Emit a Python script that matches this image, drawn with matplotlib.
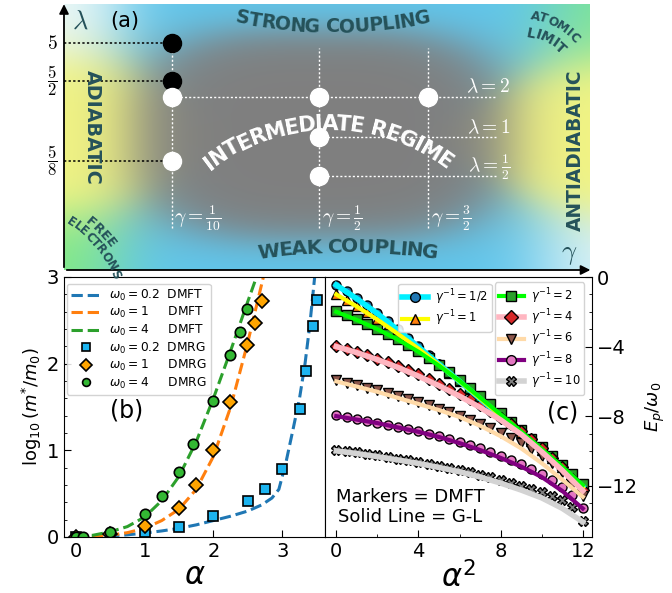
import numpy as np
import matplotlib
matplotlib.use('Agg')
import matplotlib.pyplot as plt
from matplotlib.font_manager import FontProperties
from matplotlib.lines import Line2D
from matplotlib.ticker import MultipleLocator

# ---------------- data ----------------
# panel (a): schematic phase diagram (positions in schematic axes units)
gamma_pos = {'1/10': 0.205, '1/2': 0.485, '3/2': 0.692}
lambda_pos = {'5': 0.853, '5/2': 0.711, '2': 0.650, '1': 0.500, '5/8': 0.410, '1/2': 0.353}
black_pts = [('1/10', '5'), ('1/10', '5/2')]
white_pts = [('1/10', '2'), ('1/10', '5/8'), ('1/2', '2'), ('1/2', '1'), ('1/2', '1/2'), ('3/2', '2')]

# panel (b): log10(m*/m0) vs alpha
dmft_02_x = [0, 0.25, 0.5, 0.75, 1.0, 1.25, 1.5, 1.75, 2.0, 2.25, 2.5, 2.7, 2.85, 2.95, 3.05, 3.15, 3.25, 3.33, 3.4, 3.47, 3.52]
dmft_02_y = [0, 0.003, 0.01, 0.025, 0.045, 0.07, 0.1, 0.14, 0.19, 0.24, 0.3, 0.37, 0.45, 0.55, 0.85, 1.22, 1.6, 2.0, 2.45, 3.0, 3.4]
dmft_1_x = [0, 0.25, 0.5, 0.75, 1.0, 1.25, 1.5, 1.75, 2.0, 2.25, 2.5, 2.65, 2.8]
dmft_1_y = [0, 0.003, 0.02, 0.05, 0.1, 0.19, 0.32, 0.55, 0.93, 1.5, 2.25, 2.75, 3.25]
dmft_4_x = [0, 0.25, 0.5, 0.75, 1.0, 1.25, 1.5, 1.75, 2.0, 2.25, 2.5, 2.67]
dmft_4_y = [0, 0.02, 0.06, 0.12, 0.23, 0.42, 0.7, 1.1, 1.6, 2.15, 2.72, 3.1]
dmrg_02_x = [0, 1.0, 1.5, 2.0, 2.5, 2.75, 3.0, 3.25, 3.35, 3.45, 3.5]
dmrg_02_y = [0, 0.06, 0.11, 0.24, 0.41, 0.55, 0.79, 1.48, 1.92, 2.44, 2.73]
dmrg_1_x = [0, 0.5, 1.0, 1.5, 1.75, 2.0, 2.24, 2.49, 2.6, 2.71]
dmrg_1_y = [0, 0.03, 0.13, 0.33, 0.60, 1.00, 1.56, 2.22, 2.47, 2.72]
dmrg_4_x = [0, 0.1, 0.5, 1.0, 1.25, 1.5, 1.7, 2.0, 2.24, 2.39, 2.49]
dmrg_4_y = [0, 0, 0.06, 0.27, 0.47, 0.75, 1.07, 1.57, 2.10, 2.36, 2.63]

# panel (c): E_p/omega_0 vs alpha^2
alpha2_dmft = [0, 0.5, 1, 1.5, 2, 2.5, 3, 3.5, 4, 4.5, 5, 5.5, 6, 6.5, 7, 7.5, 8, 8.5, 9, 9.5, 10, 10.5, 11, 11.5, 12]
alpha2_gl = [0, 1, 2, 3, 4, 5, 6, 7, 8, 9, 10, 11, 12]
dmft_g05 = [-0.46, -0.82, -1.2, -1.62, -2.06, -2.53, -3.01, -3.5, -3.99, -4.49, -4.98, -5.48, -5.97, -6.47, -6.96, -7.46, -7.95, -8.45, -8.95, -9.44, -9.94, -10.44, -10.94, -11.44, -11.95]
dmft_g1 = [-0.97, -1.3, -1.65, -2.02, -2.4, -2.8, -3.22, -3.66, -4.1, -4.56, -5.03, -5.5, -5.98, -6.46, -6.95, -7.44, -7.93, -8.42, -8.92, -9.42, -9.92, -10.42, -10.92, -11.42, -11.95]
dmft_g2 = [-1.97, -2.2, -2.44, -2.7, -2.97, -3.26, -3.57, -3.91, -4.27, -4.66, -5.06, -5.48, -5.92, -6.38, -6.85, -7.33, -7.82, -8.31, -8.8, -9.3, -9.8, -10.3, -10.82, -11.34, -11.88]
dmft_g4 = [-3.97, -4.13, -4.3, -4.49, -4.69, -4.9, -5.12, -5.36, -5.6, -5.86, -6.13, -6.42, -6.72, -7.04, -7.37, -7.72, -8.08, -8.47, -8.88, -9.32, -9.85, -10.38, -10.95, -11.6, -12.25]
dmft_g6 = [-5.95, -6.08, -6.22, -6.37, -6.52, -6.68, -6.85, -7.02, -7.2, -7.38, -7.57, -7.77, -7.98, -8.2, -8.43, -8.68, -8.95, -9.24, -9.56, -9.91, -10.3, -10.72, -11.2, -11.9, -12.6]
dmft_g8 = [-7.95, -8.05, -8.15, -8.26, -8.37, -8.49, -8.61, -8.74, -8.87, -9.01, -9.16, -9.32, -9.48, -9.66, -9.85, -10.05, -10.27, -10.5, -10.75, -11.03, -11.33, -11.67, -12.05, -12.55, -13.3]
dmft_g10 = [-9.92, -10.0, -10.08, -10.17, -10.26, -10.35, -10.45, -10.55, -10.65, -10.76, -10.87, -10.99, -11.11, -11.24, -11.37, -11.51, -11.66, -11.82, -11.99, -12.17, -12.37, -12.59, -12.84, -13.2, -14.05]
gl_g05 = [-0.46, -1.25, -2.1, -3.05, -4.02, -5.01, -6.0, -7.0, -8.0, -9.0, -10.0, -11.0, -12.05]
gl_g1 = [-1.0, -1.7, -2.45, -3.27, -4.12, -5.05, -6.0, -6.98, -7.97, -8.97, -9.97, -10.98, -12.1]
gl_g2 = [-2.0, -2.47, -3.0, -3.6, -4.3, -5.1, -5.97, -6.93, -7.9, -8.88, -9.88, -10.9, -11.97]
gl_g4 = [-4.0, -4.35, -4.75, -5.2, -5.7, -6.25, -6.85, -7.5, -8.22, -9.05, -10.05, -11.12, -12.29]
gl_g6 = [-6.0, -6.3, -6.6, -6.95, -7.3, -7.65, -8.05, -8.55, -9.15, -9.85, -10.7, -11.65, -12.64]
gl_g8 = [-8.0, -8.2, -8.4, -8.65, -8.9, -9.2, -9.55, -9.95, -10.4, -10.9, -11.5, -12.3, -13.31]
gl_g10 = [-10.0, -10.15, -10.33, -10.52, -10.72, -10.95, -11.2, -11.5, -11.85, -12.25, -12.7, -13.3, -14.08]
gamma_labels = ['1/2', '1', '2', '4', '6', '8', '10']

# ---------------- figure ----------------
FW, FH = 672, 593
fig = plt.figure(figsize=(FW / 100, FH / 100), dpi=100)
plt.rcParams['xtick.direction'] = 'in'
plt.rcParams['ytick.direction'] = 'in'


def fx(px):
    return px / FW


def fy(py):
    return 1 - py / FH


ax_a = fig.add_axes([fx(64), fy(270), (590 - 64) / FW, (270 - 4) / FH])
ax_b = fig.add_axes([fx(64), fy(537), (325 - 64) / FW, (537 - 277) / FH])
ax_c = fig.add_axes([fx(325), fy(537), (592 - 325) / FW, (537 - 277) / FH])

# ---------- panel (a) background ----------
H, W = 266, 526
X, Y = np.meshgrid(np.linspace(0, 1, W), np.linspace(1, 0, H))
yellow = np.array([0.95, 0.96, 0.52])
blue = np.array([0.38, 0.78, 0.93])
green = np.array([0.50, 0.93, 0.48])
white = np.array([0.97, 0.99, 1.0])
anchors = [(0.0, 0.5, yellow, 0.10, 0.22), (1.0, 0.52, yellow, 0.09, 0.22),
           (0.0, 1.0, white, 0.09, 0.12), (1.0, 0.0, white, 0.09, 0.12),
           (0.0, 0.0, green, 0.09, 0.13), (1.0, 1.0, green, 0.08, 0.13)]
for xb in np.linspace(0.25, 0.85, 7):
    anchors.append((xb, 1.0, blue, 0.12, 0.13))
    anchors.append((xb - 0.03, 0.0, blue, 0.12, 0.13))
acc = np.zeros((H, W, 3))
wsum = np.zeros((H, W))
for axx, ayy, col, sx, sy in anchors:
    w = np.exp(-0.5 * ((X - axx) / sx) ** 2 - 0.5 * ((Y - ayy) / sy) ** 2) + 1e-12
    acc += w[..., None] * col
    wsum += w
outer = acc / wsum[..., None]
p = 3.0
d = (np.abs((X - 0.49) / 0.36) ** p + np.abs((Y - 0.51) / 0.40) ** p) ** (1 / p)
alpha = 1 / (1 + np.exp((d - 1) / 0.1))
gray = np.array([0.5, 0.5, 0.5])
img = outer * (1 - alpha[..., None]) + gray * alpha[..., None]
ax_a.imshow(img, extent=[0, 1, 0, 1], aspect='auto', origin='upper', zorder=0)
ax_a.set_xlim(0, 1)
ax_a.set_ylim(0, 1)
ax_a.set_xticks([])
ax_a.set_yticks([])
for s in ax_a.spines.values():
    s.set_visible(False)
ax_a.annotate('', xy=(0, 1.01), xytext=(0, 0), xycoords='axes fraction',
              arrowprops=dict(arrowstyle='-|>', color='k', lw=1.3, mutation_scale=14), annotation_clip=False)
ax_a.annotate('', xy=(1.006, 0), xytext=(0, 0), xycoords='axes fraction',
              arrowprops=dict(arrowstyle='-|>', color='k', lw=1.3, mutation_scale=14), annotation_clip=False)

dot = (0, (1.5, 1.5))
gx = gamma_pos
ly = lambda_pos
for lam in ['5', '5/2', '5/8']:
    ax_a.plot([0, gx['1/10']], [ly[lam]] * 2, color='k', ls=dot, lw=1.1, zorder=2)
ax_a.plot([gx['1/10'], 0.821], [ly['2']] * 2, color='white', ls=dot, lw=1.0, zorder=2)
ax_a.plot([gx['1/2'], 0.821], [ly['1']] * 2, color='white', ls=dot, lw=1.0, zorder=2)
ax_a.plot([gx['1/2'], 0.821], [ly['1/2']] * 2, color='white', ls=dot, lw=1.0, zorder=2)
ax_a.plot([gx['1/10']] * 2, [0.158, ly['5']], color='white', ls=dot, lw=1.0, zorder=2)
ax_a.plot([gx['1/2']] * 2, [0.158, 0.835], color='white', ls=dot, lw=1.0, zorder=2)
ax_a.plot([gx['3/2']] * 2, [0.158, 0.835], color='white', ls=dot, lw=1.0, zorder=2)
for g, l in black_pts:
    ax_a.plot(gx[g], ly[l], 'o', ms=13, mfc='k', mec='k', zorder=4)
for g, l in white_pts:
    ax_a.plot(gx[g], ly[l], 'o', ms=13, mfc='white', mec='white', zorder=4)

teal = '#25525a'
ax_a.text(-0.023, ly['5'], r'$5$', ha='center', va='center', fontsize=14, math_fontfamily='cm')
ax_a.text(-0.023, ly['5/2'], r'$\dfrac{5}{2}$', ha='center', va='center', fontsize=12, math_fontfamily='cm')
ax_a.text(-0.023, ly['5/8'], r'$\dfrac{5}{8}$', ha='center', va='center', fontsize=12, math_fontfamily='cm')
ax_a.text(0.03, 0.935, r'$\lambda$', ha='center', va='center', fontsize=19, color=teal, math_fontfamily='cm')
ax_a.text(0.116, 0.935, '(a)', ha='center', va='center', fontsize=15)
ax_a.text(0.96, 0.06, r'$\gamma$', ha='center', va='center', fontsize=19, color=teal, math_fontfamily='cm')
for g, lab in [('1/10', r'$\gamma = \frac{1}{10}$'), ('1/2', r'$\gamma = \frac{1}{2}$'), ('3/2', r'$\gamma = \frac{3}{2}$')]:
    ax_a.text(gx[g] + 0.005, 0.195, lab, ha='left', va='center', fontsize=14, color='white', math_fontfamily='cm')
for lam, lab, yy in [('2', r'$\lambda = 2$', 0.688), ('1', r'$\lambda = 1$', 0.535), ('1/2', r'$\lambda = \frac{1}{2}$', 0.387)]:
    ax_a.text(0.848, yy, lab, ha='right', va='center', fontsize=14, color='white', math_fontfamily='cm')

renderer = fig.canvas.get_renderer()


def text_w(s, fp):
    w, h, dsc = renderer.get_text_width_height_descent(s, fp, ismath=False)
    return w


def arc_text(s, mx, my_img, R, phi_mid, target, color, cw=True, boost=1.0):
    """Place bold text along a circular arc whose middle point is (mx, my_img)."""
    fp0 = FontProperties(family='DejaVu Sans', weight='bold', size=10)
    fs = 10 * target / text_w(s, fp0)
    fp = FontProperties(family='DejaVu Sans', weight='bold', size=fs * boost)
    total = text_w(s, fp)
    my = FH - my_img
    cx = mx - R * np.cos(np.radians(phi_mid))
    cy = my - R * np.sin(np.radians(phi_mid))
    for i, ch in enumerate(s):
        if ch == ' ':
            continue
        right = text_w(s[:i + 1], fp)
        wc = text_w(ch, fp)
        mid = (right - wc / 2 - total / 2) / boost
        if cw:
            ang = np.radians(phi_mid) - mid / R
            rot = np.degrees(ang) - 90
        else:
            ang = np.radians(phi_mid) + mid / R
            rot = np.degrees(ang) + 90
        x = cx + R * np.cos(ang)
        y = cy + R * np.sin(ang)
        fig.text(x / FW, y / FH, ch, fontproperties=fp, color=color, rotation=rot,
                 rotation_mode='anchor', ha='center', va='center')


arc_text('STRONG COUPLING', 333, 27, 475, -90, 195, teal, cw=False, boost=1.06)
arc_text('WEAK COUPLING', 348, 247, 647, 90, 180, teal, cw=True, boost=1.06)
arc_text('INTERMEDIATE REGIME', 328, 124, 198, 90, 262, 'white', cw=True, boost=1.06)
arc_text('FREE', 101, 232, 132, 43, 37, teal, cw=True)
arc_text('ELECTRONS', 97, 245, 120, 40, 77, teal, cw=True)
arc_text('ATOMIC', 556, 24, 77, 61, 54, teal, cw=True)
arc_text('LIMIT', 547, 39, 62, 63, 42, teal, cw=True)
fpA = FontProperties(family='DejaVu Sans', weight='bold', size=10)
fpA = FontProperties(family='DejaVu Sans', weight='bold', size=10 * 115 / text_w('ADIABATIC', fpA))
fig.text(fx(92), fy(127), 'ADIABATIC', fontproperties=fpA, color=teal, rotation=-90,
         ha='center', va='center', rotation_mode='anchor')
fpB = FontProperties(family='DejaVu Sans', weight='bold', size=10)
fpB = FontProperties(family='DejaVu Sans', weight='bold', size=10 * 162 / text_w('ANTIADIABATIC', fpB))
fig.text(fx(575), fy(150), 'ANTIADIABATIC', fontproperties=fpB, color=teal, rotation=90,
         ha='center', va='center', rotation_mode='anchor')

# ---------- panel (b) ----------
lab_02 = r'$\omega_0 = 0.2\ \ \mathrm{DMFT}$'
lab_1 = r'$\omega_0 = 1\quad\ \ \mathrm{DMFT}$'
lab_4 = r'$\omega_0 = 4\quad\ \ \mathrm{DMFT}$'
ax_b.plot(dmft_02_x, dmft_02_y, '--', color='#1f77b4', lw=2.2, label=lab_02)
ax_b.plot(dmft_1_x, dmft_1_y, '--', color='#ff7f0e', lw=2.2, label=lab_1)
ax_b.plot(dmft_4_x, dmft_4_y, '--', color='#2ca02c', lw=2.2, label=lab_4)
ax_b.plot(dmrg_02_x, dmrg_02_y, 's', ms=7, mfc='#1cb4f0', mec='k', mew=1.2, ls='none',
          label=lab_02.replace('DMFT', 'DMRG'))
ax_b.plot(dmrg_1_x, dmrg_1_y, 'D', ms=7.5, mfc='#ffa500', mec='k', mew=1.2, ls='none',
          label=lab_1.replace('DMFT', 'DMRG'))
ax_b.plot(dmrg_4_x, dmrg_4_y, 'o', ms=7.5, mfc='#33b833', mec='k', mew=1.2, ls='none',
          label=lab_4.replace('DMFT', 'DMRG'))
ax_b.set_xlim(-0.17, 3.62)
ax_b.set_ylim(0, 3)
ax_b.set_xticks([0, 1, 2, 3])
ax_b.set_yticks([0, 1, 2, 3])
ax_b.yaxis.set_minor_locator(MultipleLocator(0.2))
ax_b.tick_params(labelsize=14, length=5)
ax_b.tick_params(which='minor', length=2.5)
ax_b.set_xlabel(r'$\alpha$', fontsize=22, labelpad=0)
ax_b.set_ylabel(r'$\log_{10}(m^{*}/m_0)$', fontsize=13, labelpad=2)
ax_b.legend(loc='upper left', fontsize=8.8, handlelength=2.4, labelspacing=0.2, markerscale=0.75,
            borderpad=0.35, framealpha=0.85, bbox_to_anchor=(0.01, 0.975), borderaxespad=0,
            handletextpad=0.7)
ax_b.text(0.24, 0.485, '(b)', transform=ax_b.transAxes, fontsize=17, ha='center', va='center')

# ---------- panel (c) ----------
series = [
    (dmft_g05, gl_g05, 'o', '#1f77b4', '#00f0ff', 4),
    (dmft_g1, gl_g1, '^', '#ff7f0e', '#ffff00', 3),
    (dmft_g2, gl_g2, 's', '#2ca02c', '#00ff00', 3),
    (dmft_g4, gl_g4, 'D', '#d62728', '#ffb6c1', 4),
    (dmft_g6, gl_g6, 'v', '#8c564b', '#ffdaa8', 3),
    (dmft_g8, gl_g8, 'o', '#e377c2', '#800080', 3),
    (dmft_g10, gl_g10, 'X', '#7f7f7f', '#d3d3d3', 4),
]
handles = []
for k, (dm, gl, mk, mc, lc, lw) in enumerate(series):
    ax_c.plot(alpha2_dmft, dm, mk, ms=6.5, mfc=mc, mec='k', mew=1.0, ls='none', zorder=3 + k * 0.01)
for k, (dm, gl, mk, mc, lc, lw) in enumerate(series):
    ax_c.plot(alpha2_gl, gl, '-', color=lc, lw=lw, zorder=4 + k * 0.01)
for k, (dm, gl, mk, mc, lc, lw) in enumerate(series):
    handles.append(Line2D([], [], color=lc, lw=lw, marker=mk, ms=7, mfc=mc, mec='k', mew=1.0,
                          label=r'$\gamma^{-1} = %s$' % gamma_labels[k]))
ax_c.set_xlim(-0.55, 12.45)
ax_c.set_ylim(-14.95, 0)
ax_c.yaxis.tick_right()
ax_c.yaxis.set_label_position('right')
ax_c.set_xticks([0, 4, 8, 12])
ax_c.set_yticks([0, -4, -8, -12])
ax_c.xaxis.set_minor_locator(MultipleLocator(2))
ax_c.yaxis.set_minor_locator(MultipleLocator(1))
ax_c.tick_params(labelsize=14, length=5)
ax_c.tick_params(which='minor', length=2.5)
ax_c.set_xlabel(r'$\alpha^2$', fontsize=22, labelpad=0)
ax_c.set_ylabel(r'$E_p/\omega_0$', fontsize=13, labelpad=4)
leg1 = ax_c.legend(handles=handles[:2], loc='upper left', bbox_to_anchor=(0.275, 0.975), borderaxespad=0,
                   fontsize=8.3, handlelength=2.2, labelspacing=0.15, borderpad=0.35, framealpha=0.85,
                   handletextpad=0.6)
ax_c.add_artist(leg1)
ax_c.legend(handles=handles[2:], loc='upper left', bbox_to_anchor=(0.635, 0.98), borderaxespad=0,
            fontsize=8.3, handlelength=2.2, labelspacing=0.15, borderpad=0.35, framealpha=0.85,
            handletextpad=0.6)
ax_c.text(0.32, 0.115, 'Markers = DMFT\nSolid Line = G-L', transform=ax_c.transAxes, fontsize=13,
          ha='center', va='center', linespacing=1.15)
ax_c.text(0.89, 0.48, '(c)', transform=ax_c.transAxes, fontsize=17, ha='center', va='center')

fig.savefig('out.png', dpi=100)
